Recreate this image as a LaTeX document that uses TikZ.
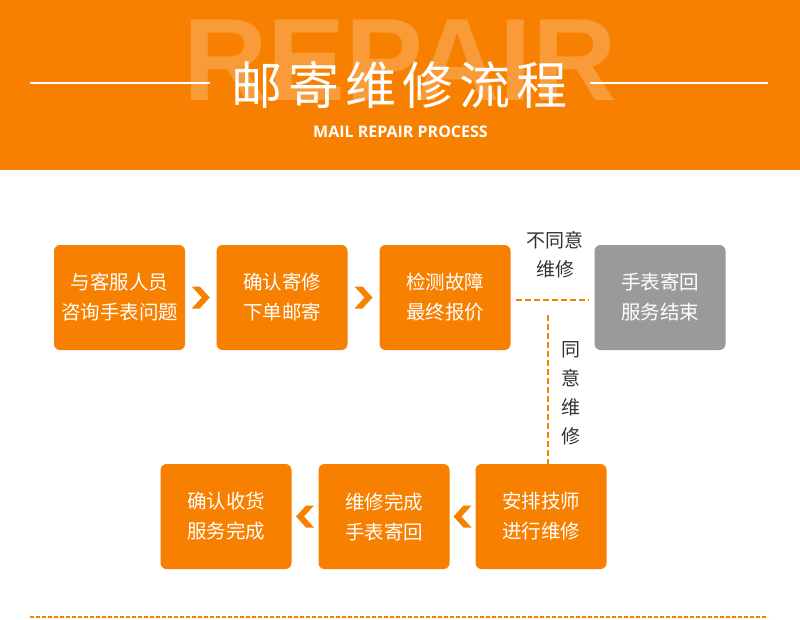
\documentclass[tikz,border=0pt]{standalone}
\usepackage{fontspec}
\usetikzlibrary{calc}
\newfontfamily\cjk{Noto Sans CJK SC}
\newfontfamily\bigfont{Liberation Sans}
\newfontfamily\subfont{Open Sans}
\definecolor{mainorange}{HTML}{F78000}
\definecolor{boxgrey}{HTML}{9A9A9A}
\definecolor{labelgrey}{HTML}{333333}
\begin{document}
\begin{tikzpicture}[x=1pt,y=-1pt,
  stepbox/.style={rounded corners=6pt, fill=mainorange, minimum width=131pt, minimum height=105pt,
    text=white, align=center, font=\cjk\fontsize{19.5}{30}\selectfont, inner sep=0pt},
  greybox/.style={stepbox, fill=boxgrey},
  dashline/.style={draw=mainorange, line width=2pt, dash pattern=on 6pt off 3pt},
  lbl/.style={text=labelgrey, font=\cjk\fontsize{19}{29}\selectfont, align=center, inner sep=0pt},
  chev/.style={fill=mainorange}
]
\useasboundingbox (0,0) rectangle (800,619);
% header
\fill[mainorange] (0,0) rectangle (800,170);
\node[anchor=base, white, opacity=0.22, inner sep=0pt, font=\bigfont\bfseries\fontsize{117}{117}\selectfont] (bg) at (400,100) {REPAIR};
\draw[white, line width=1.5pt] (30,83) -- (210,83);
\draw[white, line width=1.5pt] (590,83) -- (768,83);
\node[white, inner sep=0pt, font=\cjk\fontsize{51}{51}\selectfont] (title) at (399.5,85) {邮\hspace{6pt}寄\hspace{6pt}维\hspace{6pt}修\hspace{6pt}流\hspace{6pt}程};
\node[white, inner sep=0pt, anchor=base, font=\subfont\bfseries\fontsize{16}{16}\selectfont] (sub) at (400.5,137) {MAIL REPAIR PROCESS};
% boxes row 1
\node[stepbox] (b1) at (119.5,297.5) {与客服人员\\咨询手表问题};
\node[stepbox] (b2) at (282,297.5) {确认寄修\\下单邮寄};
\node[stepbox] (b3) at (445,297.5) {检测故障\\最终报价};
\node[greybox] (g) at (660,297.5) {手表寄回\\服务结束};
% boxes row 2
\node[stepbox] (c1) at (226,516.5) {确认收货\\服务完成};
\node[stepbox] (c2) at (384,516.5) {维修完成\\手表寄回};
\node[stepbox] (c3) at (541,516.5) {安排技师\\进行维修};
% chevrons right
\foreach \a/\b in {b1/b2,b2/b3}{
  \path ($(\a.east)!0.5!(\b.west)$) coordinate (m);
  \fill[chev,shift={(m)}] (-9,-11) -- (-1,-11) -- (9,0) -- (-1,11) -- (-9,11) -- (1,0) -- cycle;
}
% chevrons left
\foreach \a/\b in {c1/c2,c2/c3}{
  \path ($(\a.east)!0.5!(\b.west)$) coordinate (m);
  \fill[chev,shift={(m)}] (9,-11) -- (1,-11) -- (-9,0) -- (1,11) -- (9,11) -- (-1,0) -- cycle;
}
% dashed decision lines
\coordinate (h1) at ([xshift=5pt]b3.east |- 0,300);
\coordinate (h2) at ([xshift=-5pt]g.west |- 0,300);
\draw[dashline] (h1) -- (h2);
\coordinate (v1) at (548,315);
\coordinate (v2) at ([yshift=-9pt]c3.north -| v1);
\draw[dashline] (v1) -- (v2);
\node[lbl] (no) at (555,254.5) {不同意\\维修};
\node[lbl] (yes) at (571,393) {同\\意\\维\\修};
% bottom line
\draw[draw=mainorange, line width=2pt, dash pattern=on 4pt off 2pt] (30,617) -- (768,617);
\end{tikzpicture}
\end{document}
